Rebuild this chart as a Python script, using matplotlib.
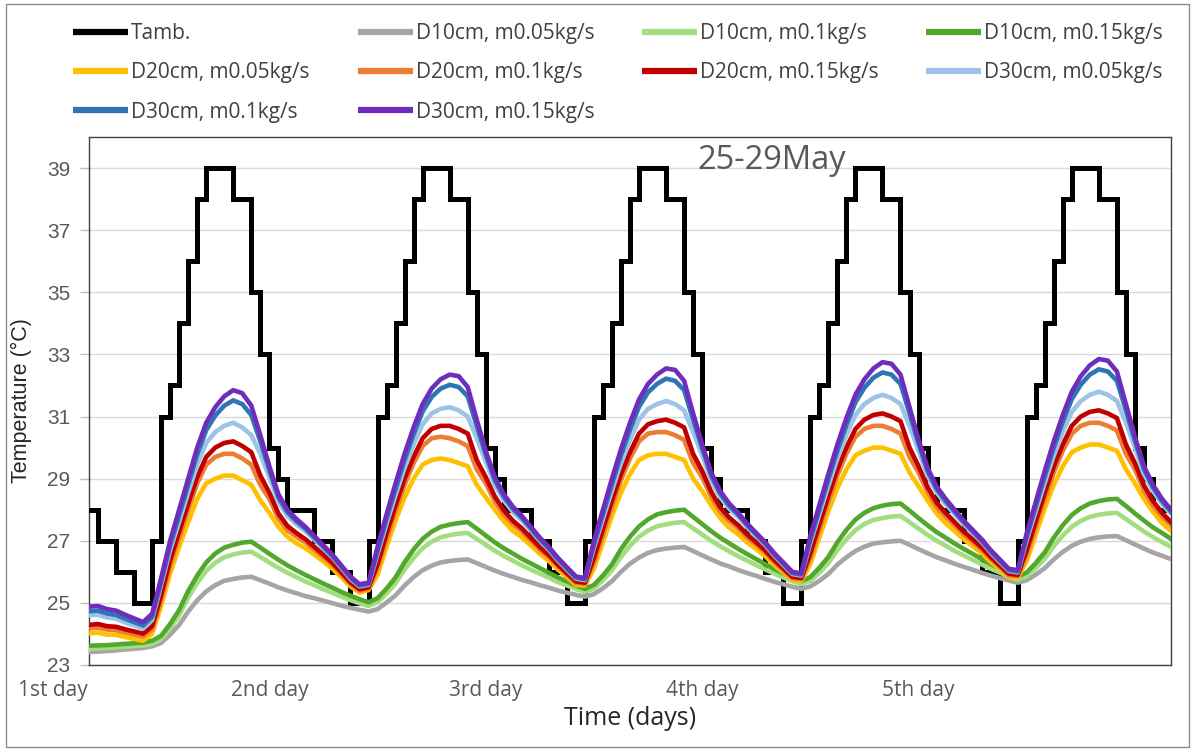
import numpy as np
import matplotlib
matplotlib.use("Agg")
import matplotlib.pyplot as plt
from matplotlib.patches import Rectangle
import matplotlib.transforms as mtransforms

# ---------------- data (hourly, 0..120 h) ----------------
tamb = [
    28, 27, 27, 26, 26, 25, 25, 27, 31, 32, 34, 36, 38, 39, 39, 39, 38, 38, 35, 33, 30, 29, 28, 28,
    28, 27, 27, 26, 26, 25, 25, 27, 31, 32, 34, 36, 38, 39, 39, 39, 38, 38, 35, 33, 30, 29, 28, 28,
    28, 27, 27, 26, 26, 25, 25, 27, 31, 32, 34, 36, 38, 39, 39, 39, 38, 38, 35, 33, 30, 29, 28, 28,
    28, 27, 27, 26, 26, 25, 25, 27, 31, 32, 34, 36, 38, 39, 39, 39, 38, 38, 35, 33, 30, 29, 28, 28,
    28, 27, 27, 26, 26, 25, 25, 27, 31, 32, 34, 36, 38, 39, 39, 39, 38, 38, 35, 33, 30, 29, 28, 28,
    28]

d10_m005 = [
    23.42, 23.43, 23.45, 23.47, 23.5, 23.52, 23.55, 23.6, 23.71, 23.98, 24.29, 24.72, 25.08, 25.37, 25.57, 25.71, 25.77, 25.82, 25.84, 25.73, 25.62, 25.5, 25.4, 25.31,
    25.22, 25.15, 25.07, 24.99, 24.91, 24.84, 24.78, 24.72, 24.8, 25.01, 25.24, 25.56, 25.83, 26.05, 26.2, 26.3, 26.35, 26.38, 26.4, 26.28, 26.16, 26.04, 25.93, 25.84,
    25.74, 25.66, 25.57, 25.49, 25.4, 25.33, 25.26, 25.2, 25.28, 25.47, 25.7, 26.0, 26.26, 26.46, 26.61, 26.7, 26.75, 26.78, 26.8, 26.67, 26.53, 26.4, 26.27, 26.17,
    26.06, 25.96, 25.87, 25.77, 25.68, 25.6, 25.52, 25.45, 25.53, 25.71, 25.93, 26.23, 26.47, 26.67, 26.81, 26.91, 26.95, 26.98, 27.0, 26.87, 26.73, 26.6, 26.47, 26.37,
    26.26, 26.16, 26.07, 25.97, 25.88, 25.8, 25.72, 25.65, 25.73, 25.91, 26.12, 26.4, 26.64, 26.84, 26.97, 27.06, 27.11, 27.14, 27.15, 27.02, 26.88, 26.75, 26.62, 26.52,
    26.41]

d10_m01 = [
    23.52, 23.53, 23.55, 23.57, 23.59, 23.61, 23.63, 23.68, 23.83, 24.18, 24.6, 25.17, 25.64, 26.03, 26.29, 26.47, 26.56, 26.62, 26.65, 26.48, 26.3, 26.13, 25.97, 25.83,
    25.69, 25.57, 25.44, 25.32, 25.2, 25.09, 24.99, 24.9, 25.02, 25.3, 25.63, 26.08, 26.45, 26.76, 26.97, 27.11, 27.18, 27.23, 27.25, 27.06, 26.87, 26.68, 26.51, 26.36,
    26.21, 26.07, 25.94, 25.81, 25.67, 25.56, 25.45, 25.35, 25.46, 25.73, 26.05, 26.48, 26.84, 27.13, 27.33, 27.47, 27.53, 27.58, 27.6, 27.4, 27.2, 27.0, 26.82, 26.66,
    26.5, 26.36, 26.22, 26.08, 25.94, 25.82, 25.7, 25.6, 25.71, 25.97, 26.28, 26.7, 27.05, 27.34, 27.54, 27.67, 27.73, 27.78, 27.8, 27.6, 27.39, 27.19, 27.0, 26.84,
    26.67, 26.53, 26.39, 26.24, 26.1, 25.98, 25.85, 25.75, 25.86, 26.12, 26.42, 26.83, 27.17, 27.45, 27.64, 27.77, 27.84, 27.88, 27.9, 27.7, 27.5, 27.3, 27.12, 26.96,
    26.8]

d10_m015 = [
    23.62, 23.63, 23.64, 23.66, 23.68, 23.7, 23.72, 23.78, 23.94, 24.32, 24.77, 25.38, 25.88, 26.3, 26.59, 26.78, 26.87, 26.94, 26.97, 26.78, 26.58, 26.39, 26.21, 26.05,
    25.9, 25.76, 25.62, 25.49, 25.35, 25.23, 25.12, 25.02, 25.15, 25.46, 25.82, 26.31, 26.72, 27.06, 27.29, 27.45, 27.52, 27.57, 27.6, 27.39, 27.17, 26.95, 26.76, 26.59,
    26.42, 26.27, 26.12, 25.97, 25.82, 25.69, 25.56, 25.45, 25.58, 25.88, 26.24, 26.73, 27.13, 27.46, 27.69, 27.85, 27.92, 27.97, 28.0, 27.77, 27.54, 27.31, 27.1, 26.92,
    26.74, 26.57, 26.41, 26.25, 26.09, 25.95, 25.82, 25.7, 25.83, 26.13, 26.48, 26.95, 27.35, 27.68, 27.9, 28.05, 28.13, 28.18, 28.2, 27.97, 27.73, 27.5, 27.28, 27.1,
    26.91, 26.74, 26.58, 26.41, 26.25, 26.11, 25.97, 25.85, 25.98, 26.28, 26.63, 27.1, 27.5, 27.83, 28.05, 28.2, 28.28, 28.33, 28.35, 28.12, 27.88, 27.65, 27.43, 27.25,
    27.06]

d20_m005 = [
    24.02, 24.04, 23.98, 23.97, 23.9, 23.84, 23.78, 24.0, 24.9, 25.95, 26.8, 27.6, 28.35, 28.85, 29.0, 29.1, 29.1, 28.95, 28.8, 28.3, 27.9, 27.45, 27.13, 26.92,
    26.76, 26.55, 26.33, 26.1, 25.82, 25.53, 25.33, 25.41, 25.9, 26.8, 27.65, 28.4, 29.0, 29.45, 29.6, 29.65, 29.6, 29.5, 29.4, 28.8, 28.4, 28.0, 27.63, 27.32,
    27.11, 26.85, 26.58, 26.35, 26.07, 25.83, 25.58, 25.56, 26.1, 26.95, 27.8, 28.55, 29.15, 29.6, 29.75, 29.8, 29.8, 29.7, 29.6, 29.0, 28.6, 28.15, 27.73, 27.42,
    27.21, 26.95, 26.73, 26.5, 26.22, 25.98, 25.73, 25.71, 26.25, 27.1, 27.95, 28.7, 29.3, 29.75, 29.9, 30.0, 30.0, 29.9, 29.8, 29.2, 28.75, 28.3, 27.88, 27.57,
    27.31, 27.05, 26.83, 26.6, 26.32, 26.08, 25.83, 25.81, 26.35, 27.2, 28.05, 28.8, 29.4, 29.85, 30.0, 30.1, 30.1, 30.0, 29.9, 29.3, 28.85, 28.35, 27.93, 27.57,
    27.31]

d20_m01 = [
    24.18, 24.2, 24.14, 24.12, 24.05, 23.98, 23.92, 24.15, 25.1, 26.2, 27.1, 28.0, 28.85, 29.45, 29.7, 29.8, 29.8, 29.65, 29.45, 28.8, 28.35, 27.72, 27.34, 27.13,
    26.95, 26.71, 26.47, 26.22, 25.92, 25.61, 25.39, 25.46, 26.1, 27.05, 27.95, 28.8, 29.5, 30.05, 30.3, 30.35, 30.3, 30.2, 30.05, 29.3, 28.85, 28.27, 27.84, 27.53,
    27.3, 27.01, 26.72, 26.47, 26.17, 25.91, 25.64, 25.61, 26.3, 27.2, 28.1, 28.95, 29.65, 30.2, 30.45, 30.5, 30.5, 30.4, 30.25, 29.5, 29.05, 28.42, 27.94, 27.63,
    27.4, 27.11, 26.87, 26.62, 26.32, 26.06, 25.79, 25.76, 26.45, 27.35, 28.25, 29.1, 29.8, 30.35, 30.6, 30.7, 30.7, 30.6, 30.45, 29.7, 29.2, 28.57, 28.09, 27.78,
    27.5, 27.21, 26.97, 26.72, 26.42, 26.16, 25.89, 25.86, 26.55, 27.45, 28.35, 29.2, 29.9, 30.45, 30.7, 30.8, 30.8, 30.7, 30.55, 29.8, 29.3, 28.62, 28.14, 27.78,
    27.5]

d20_m015 = [
    24.29, 24.32, 24.25, 24.23, 24.15, 24.08, 24.01, 24.25, 25.25, 26.38, 27.3, 28.2, 29.05, 29.7, 30.0, 30.15, 30.2, 30.05, 29.85, 29.1, 28.55, 27.88, 27.48, 27.25,
    27.05, 26.8, 26.55, 26.29, 25.98, 25.66, 25.44, 25.5, 26.25, 27.23, 28.15, 29.0, 29.7, 30.3, 30.6, 30.7, 30.7, 30.6, 30.45, 29.6, 29.05, 28.43, 27.98, 27.65,
    27.4, 27.1, 26.8, 26.54, 26.23, 25.96, 25.69, 25.65, 26.45, 27.38, 28.3, 29.15, 29.85, 30.45, 30.75, 30.85, 30.9, 30.8, 30.65, 29.8, 29.25, 28.58, 28.08, 27.75,
    27.5, 27.2, 26.95, 26.69, 26.38, 26.11, 25.84, 25.8, 26.6, 27.53, 28.45, 29.3, 30.0, 30.6, 30.9, 31.05, 31.1, 31.0, 30.85, 30.0, 29.4, 28.73, 28.23, 27.9,
    27.6, 27.3, 27.05, 26.79, 26.48, 26.21, 25.94, 25.9, 26.7, 27.63, 28.55, 29.4, 30.1, 30.7, 31.0, 31.15, 31.2, 31.1, 30.95, 30.1, 29.5, 28.78, 28.28, 27.9,
    27.6]

d30_m005 = [
    24.6, 24.62, 24.53, 24.49, 24.37, 24.27, 24.17, 24.45, 25.58, 26.7, 27.62, 28.55, 29.45, 30.15, 30.5, 30.7, 30.8, 30.65, 30.4, 29.8, 29.05, 28.25, 27.8, 27.53,
    27.31, 27.03, 26.75, 26.46, 26.12, 25.77, 25.53, 25.58, 26.58, 27.55, 28.47, 29.35, 30.1, 30.75, 31.1, 31.25, 31.3, 31.2, 31.0, 30.3, 29.55, 28.8, 28.3, 27.93,
    27.66, 27.33, 27.0, 26.71, 26.37, 26.07, 25.78, 25.73, 26.78, 27.7, 28.62, 29.5, 30.25, 30.9, 31.25, 31.4, 31.5, 31.4, 31.2, 30.5, 29.75, 28.95, 28.4, 28.03,
    27.76, 27.43, 27.15, 26.86, 26.52, 26.22, 25.93, 25.88, 26.93, 27.85, 28.77, 29.65, 30.4, 31.05, 31.4, 31.6, 31.7, 31.6, 31.4, 30.7, 29.9, 29.1, 28.55, 28.18,
    27.86, 27.53, 27.25, 26.96, 26.62, 26.32, 26.03, 25.98, 27.03, 27.95, 28.87, 29.75, 30.5, 31.15, 31.5, 31.7, 31.8, 31.7, 31.5, 30.8, 30.0, 29.15, 28.6, 28.18,
    27.86]

d30_m01 = [
    24.73, 24.75, 24.66, 24.61, 24.49, 24.38, 24.27, 24.55, 25.68, 26.85, 27.82, 28.8, 29.78, 30.56, 31.03, 31.35, 31.52, 31.4, 31.05, 30.2, 29.28, 28.4, 27.92, 27.63,
    27.39, 27.1, 26.8, 26.5, 26.16, 25.81, 25.56, 25.61, 26.68, 27.7, 28.67, 29.6, 30.43, 31.16, 31.63, 31.9, 32.02, 31.95, 31.65, 30.7, 29.78, 28.95, 28.42, 28.03,
    27.74, 27.4, 27.05, 26.75, 26.41, 26.11, 25.81, 25.76, 26.88, 27.85, 28.82, 29.75, 30.58, 31.31, 31.78, 32.05, 32.22, 32.15, 31.85, 30.9, 29.98, 29.1, 28.52, 28.13,
    27.84, 27.5, 27.2, 26.9, 26.56, 26.26, 25.96, 25.91, 27.03, 28.0, 28.97, 29.9, 30.73, 31.46, 31.93, 32.25, 32.42, 32.35, 32.05, 31.1, 30.13, 29.25, 28.67, 28.28,
    27.94, 27.6, 27.3, 27.0, 26.66, 26.36, 26.06, 26.01, 27.13, 28.1, 29.07, 30.0, 30.83, 31.56, 32.03, 32.35, 32.52, 32.45, 32.15, 31.2, 30.23, 29.3, 28.72, 28.28,
    27.94]

d30_m015 = [
    24.88, 24.9, 24.8, 24.75, 24.62, 24.5, 24.38, 24.65, 25.8, 27.0, 28.0, 29.0, 30.0, 30.8, 31.3, 31.65, 31.85, 31.75, 31.35, 30.4, 29.4, 28.5, 28.0, 27.7,
    27.45, 27.15, 26.85, 26.55, 26.2, 25.85, 25.6, 25.65, 26.8, 27.85, 28.85, 29.8, 30.65, 31.4, 31.9, 32.2, 32.35, 32.3, 31.95, 30.9, 29.9, 29.05, 28.5, 28.1,
    27.8, 27.45, 27.1, 26.8, 26.45, 26.15, 25.85, 25.8, 27.0, 28.0, 29.0, 29.95, 30.8, 31.55, 32.05, 32.35, 32.55, 32.5, 32.15, 31.1, 30.1, 29.2, 28.6, 28.2,
    27.9, 27.55, 27.25, 26.95, 26.6, 26.3, 26.0, 25.95, 27.15, 28.15, 29.15, 30.1, 30.95, 31.7, 32.2, 32.55, 32.75, 32.7, 32.35, 31.3, 30.25, 29.35, 28.75, 28.35,
    28.0, 27.65, 27.35, 27.05, 26.7, 26.4, 26.1, 26.05, 27.25, 28.25, 29.25, 30.2, 31.05, 31.8, 32.3, 32.65, 32.85, 32.8, 32.45, 31.4, 30.35, 29.4, 28.8, 28.35,
    28.0]

hours = np.arange(len(tamb))

series_labels = ["D10cm, m0.05kg/s", "D10cm, m0.1kg/s", "D10cm, m0.15kg/s",
                 "D20cm, m0.05kg/s", "D20cm, m0.1kg/s", "D20cm, m0.15kg/s",
                 "D30cm, m0.05kg/s", "D30cm, m0.1kg/s", "D30cm, m0.15kg/s"]
series_values = [d10_m005, d10_m01, d10_m015, d20_m005, d20_m01, d20_m015,
                 d30_m005, d30_m01, d30_m015]
series_colors = ["#A5A5A5", "#A2DE80", "#52A82C", "#FFC000", "#ED7D31", "#C00000",
                 "#9DC3E6", "#2E75B6", "#6F2DBD"]

day_tick_pos = [-4, 20, 44, 68, 92]
day_tick_labels = ["1st day", "2nd day", "3rd day", "4th day", "5th day"]
y_ticks = [23, 25, 27, 29, 31, 33, 35, 37, 39]

# ---------------- figure ----------------
W, H = 1195, 749
fig = plt.figure(figsize=(W / 100, H / 100), dpi=100)
fig.patch.set_facecolor("white")
fig.add_artist(Rectangle((6 / W, 1 - 747 / H), (1189 - 6) / W, (747 - 4) / H,
                         transform=fig.transFigure, fill=False, ec="#8a8a8a", lw=1))

L, R, T, B = 89, 1171, 137, 665
ax = fig.add_axes([L / W, 1 - B / H, (R - L) / W, (B - T) / H])
ax.set_xlim(0, 120)
ax.set_ylim(23, 40)

ax.yaxis.grid(True, color="#D9D9D9", lw=1)
ax.set_axisbelow(True)

lines = []
l0, = ax.plot(hours, tamb, color="black", lw=3.6, drawstyle="steps-post",
              solid_joinstyle="miter", label="Tamb.", zorder=3)
lines.append(l0)
for vals, col, lab in zip(series_values, series_colors, series_labels):
    ln, = ax.plot(hours, vals, color=col, lw=3.3, label=lab, zorder=4,
                  solid_joinstyle="round")
    lines.append(ln)

for sp in ax.spines.values():
    sp.set_color("#404040")
    sp.set_linewidth(1.0)

ax.set_yticks(y_ticks)
ax.tick_params(axis="y", direction="out", length=6.5, width=1, color="#BFBFBF",
               pad=7, labelsize=15, labelcolor="#595959")
for t in ax.get_yticklabels():
    t.set_fontfamily("Liberation Sans")

ax.set_xticks(day_tick_pos[1:])
ax.set_xticklabels(day_tick_labels[1:])
ax.tick_params(axis="x", length=0, pad=11, labelsize=15, labelcolor="#595959")
for t in ax.get_xticklabels():
    t.set_fontfamily("Open Sans")
trans = mtransforms.blended_transform_factory(ax.transData, ax.transAxes)
ax.text(day_tick_pos[0], 0, day_tick_labels[0], ha="center", va="top",
        fontsize=15, color="#595959", family="Open Sans", clip_on=False,
        transform=trans + mtransforms.ScaledTranslation(0, -15 / 100, fig.dpi_scale_trans))

ax.set_ylabel("Temperature (°C)", fontsize=15.5, family="Liberation Sans", color="#262626")
ax.yaxis.set_label_coords(-0.053, 0.5)
ax.set_xlabel("Time (days)", fontsize=18, family="Open Sans", color="#262626")
ax.xaxis.set_label_coords(0.5, -0.078)

ax.text(0.562, 0.955, "25-29May", transform=ax.transAxes, ha="left", va="center",
        fontsize=23.5, family="Open Sans", color="#595959")

# ---------------- legend (4 columns, row-wise order) ----------------
handles = lines
col_members = [[0, 4, 8], [1, 5, 9], [2, 6], [3, 7]]
col_x = [73, 358, 642, 926]
for members, cx in zip(col_members, col_x):
    leg = fig.legend([handles[i] for i in members], [handles[i].get_label() for i in members],
                     loc="upper left", bbox_to_anchor=(cx / W, 1 - 23 / H),
                     bbox_transform=fig.transFigure, frameon=False, ncol=1,
                     borderpad=0, borderaxespad=0, handlelength=2.65, handletextpad=0.12,
                     labelspacing=0.88, prop={"family": "Open Sans", "size": 15})
    for txt in leg.get_texts():
        txt.set_color("#404040")
    for lh in leg.get_lines():
        lh.set_linewidth(4.5)
        lh.set_solid_capstyle("butt")

fig.savefig("out.png", dpi=100, facecolor="white")
